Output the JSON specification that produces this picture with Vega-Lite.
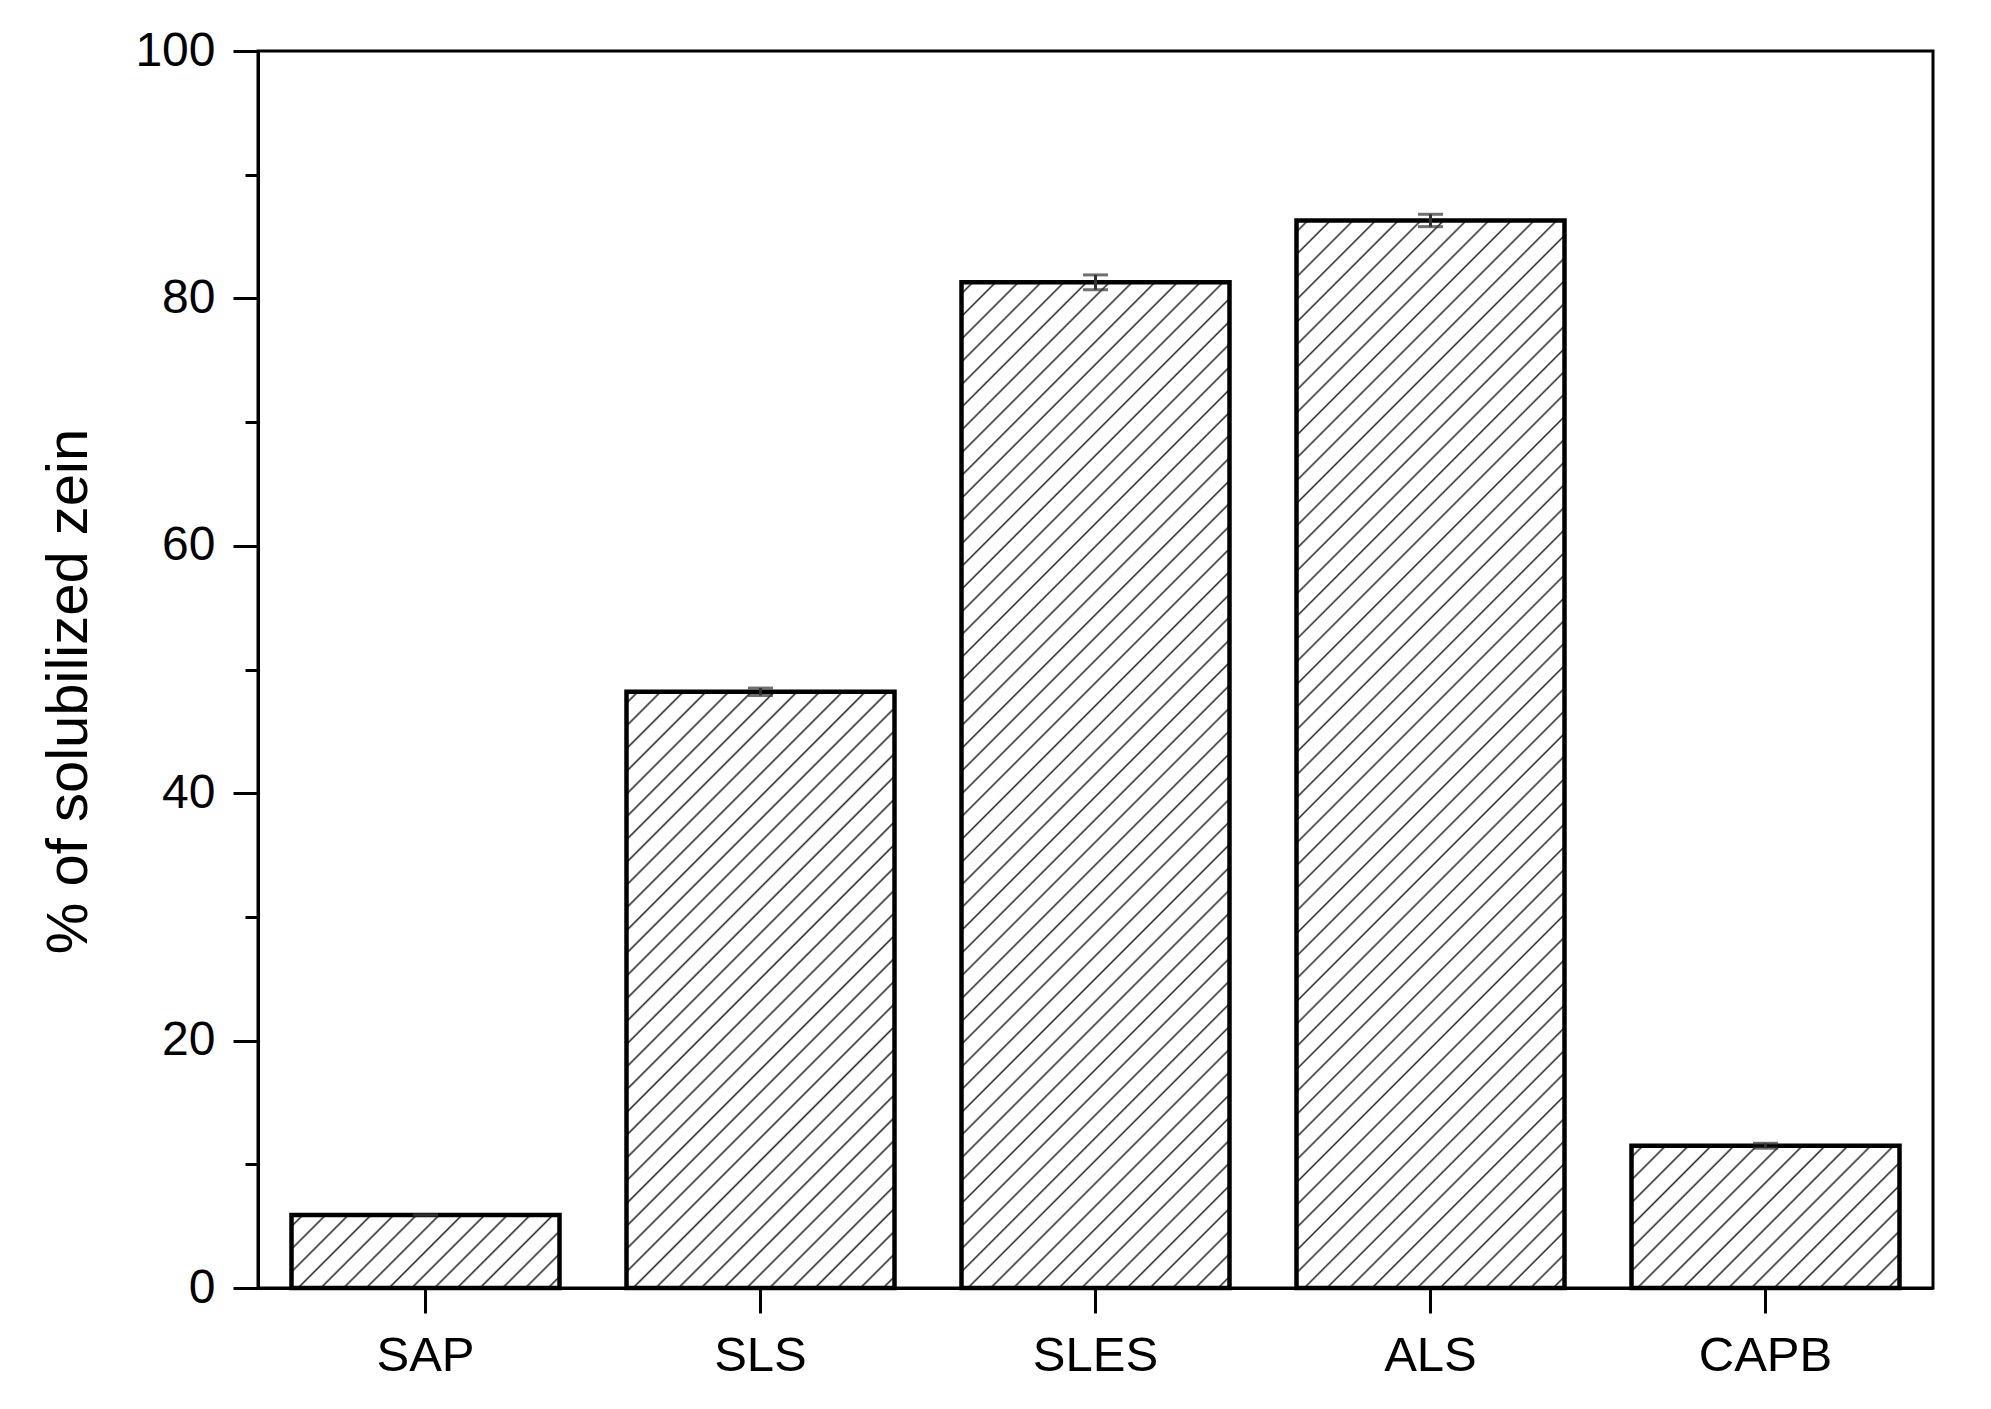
{
  "$schema": "https://vega.github.io/schema/vega-lite/v6.json",
  "width": 1675,
  "height": 1237,
  "autosize": {"type": "none"},
  "padding": {"left": 258, "top": 51, "right": 58, "bottom": 121},
  "background": "white",
  "config": {
    "font": "Liberation Sans",
    "view": {"stroke": "black", "strokeWidth": 3},
    "axis": {"domainColor": "black", "domainWidth": 3, "tickColor": "black", "tickWidth": 3, "labelColor": "black", "titleColor": "black", "grid": false, "labelFont": "Liberation Sans", "titleFont": "Liberation Sans"}
  },
  "data": {
    "values": [
      {"s": "SAP", "v": 5.9, "lo": 5.9, "hi": 5.9},
      {"s": "SLS", "v": 48.2, "lo": 47.9, "hi": 48.5},
      {"s": "SLES", "v": 81.3, "lo": 80.7, "hi": 81.9},
      {"s": "ALS", "v": 86.3, "lo": 85.8, "hi": 86.8},
      {"s": "CAPB", "v": 11.5, "lo": 11.3, "hi": 11.7}
    ]
  },
  "encoding": {
    "x": {
      "field": "s",
      "type": "nominal",
      "scale": {"domain": ["SAP", "SLS", "SLES", "ALS", "CAPB"], "paddingInner": 0.2, "paddingOuter": 0.1},
      "axis": {"title": null, "labelAngle": 0, "labelFontSize": 49, "tickSize": 25, "labelPadding": 18}
    }
  },
  "layer": [
    {
      "mark": {"type": "bar", "stroke": "black", "strokeWidth": 4.5, "strokeJoin": "miter"},
      "encoding": {
        "y": {
          "field": "v",
          "type": "quantitative",
          "scale": {"domain": [0, 100], "nice": false},
          "axis": {
            "title": "% of solubilized zein",
            "titleFontSize": 58,
            "titleFontWeight": "normal",
            "titlePadding": 36,
            "titleY": 640,
            "values": [0, 10, 20, 30, 40, 50, 60, 70, 80, 90, 100],
            "labelExpr": "datum.value % 20 === 0 ? datum.label : ''",
            "labelFontSize": 48,
            "tickSize": {"condition": {"test": "datum.value % 20 === 0", "value": 25}, "value": 13},
            "labelPadding": 18
          }
        },
        "fill": {
          "condition": [
            {"test": "datum.s === 'SAP'", "value": {"gradient": "linear", "x1": 0, "y1": 0, "x2": 1.1845, "y2": 0.3227, "stops": [
              {"offset":0.0268,"color":"#fff"},{"offset":0.0333,"color":"#2a2a2a"},{"offset":0.0398,"color":"#fff"},
              {"offset":0.0935,"color":"#fff"},{"offset":0.1,"color":"#2a2a2a"},{"offset":0.1065,"color":"#fff"},
              {"offset":0.1602,"color":"#fff"},{"offset":0.1667,"color":"#2a2a2a"},{"offset":0.1732,"color":"#fff"},
              {"offset":0.2268,"color":"#fff"},{"offset":0.2333,"color":"#2a2a2a"},{"offset":0.2398,"color":"#fff"},
              {"offset":0.2935,"color":"#fff"},{"offset":0.3,"color":"#2a2a2a"},{"offset":0.3065,"color":"#fff"},
              {"offset":0.3602,"color":"#fff"},{"offset":0.3667,"color":"#2a2a2a"},{"offset":0.3732,"color":"#fff"},
              {"offset":0.4268,"color":"#fff"},{"offset":0.4333,"color":"#2a2a2a"},{"offset":0.4398,"color":"#fff"},
              {"offset":0.4935,"color":"#fff"},{"offset":0.5,"color":"#2a2a2a"},{"offset":0.5065,"color":"#fff"},
              {"offset":0.5602,"color":"#fff"},{"offset":0.5667,"color":"#2a2a2a"},{"offset":0.5732,"color":"#fff"},
              {"offset":0.6268,"color":"#fff"},{"offset":0.6333,"color":"#2a2a2a"},{"offset":0.6398,"color":"#fff"},
              {"offset":0.6935,"color":"#fff"},{"offset":0.7,"color":"#2a2a2a"},{"offset":0.7065,"color":"#fff"},
              {"offset":0.7602,"color":"#fff"},{"offset":0.7667,"color":"#2a2a2a"},{"offset":0.7732,"color":"#fff"},
              {"offset":0.8268,"color":"#fff"},{"offset":0.8333,"color":"#2a2a2a"},{"offset":0.8398,"color":"#fff"},
              {"offset":0.8935,"color":"#fff"},{"offset":0.9,"color":"#2a2a2a"},{"offset":0.9065,"color":"#fff"},
              {"offset":0.9602,"color":"#fff"},{"offset":0.9667,"color":"#2a2a2a"},{"offset":0.9732,"color":"#fff"}
            ]}},
            {"test": "datum.s === 'CAPB'", "value": {"gradient": "linear", "x1": 0, "y1": 0, "x2": 1.1943, "y2": 0.6341, "stops": [
              {"offset":0.0224,"color":"#fff"},{"offset":0.0278,"color":"#2a2a2a"},{"offset":0.0332,"color":"#fff"},
              {"offset":0.0779,"color":"#fff"},{"offset":0.0833,"color":"#2a2a2a"},{"offset":0.0887,"color":"#fff"},
              {"offset":0.1335,"color":"#fff"},{"offset":0.1389,"color":"#2a2a2a"},{"offset":0.1443,"color":"#fff"},
              {"offset":0.1890,"color":"#fff"},{"offset":0.1944,"color":"#2a2a2a"},{"offset":0.1998,"color":"#fff"},
              {"offset":0.2446,"color":"#fff"},{"offset":0.25,"color":"#2a2a2a"},{"offset":0.2554,"color":"#fff"},
              {"offset":0.3002,"color":"#fff"},{"offset":0.3056,"color":"#2a2a2a"},{"offset":0.3110,"color":"#fff"},
              {"offset":0.3557,"color":"#fff"},{"offset":0.3611,"color":"#2a2a2a"},{"offset":0.3665,"color":"#fff"},
              {"offset":0.4113,"color":"#fff"},{"offset":0.4167,"color":"#2a2a2a"},{"offset":0.4221,"color":"#fff"},
              {"offset":0.4668,"color":"#fff"},{"offset":0.4722,"color":"#2a2a2a"},{"offset":0.4776,"color":"#fff"},
              {"offset":0.5224,"color":"#fff"},{"offset":0.5278,"color":"#2a2a2a"},{"offset":0.5332,"color":"#fff"},
              {"offset":0.5779,"color":"#fff"},{"offset":0.5833,"color":"#2a2a2a"},{"offset":0.5887,"color":"#fff"},
              {"offset":0.6335,"color":"#fff"},{"offset":0.6389,"color":"#2a2a2a"},{"offset":0.6443,"color":"#fff"},
              {"offset":0.6890,"color":"#fff"},{"offset":0.6944,"color":"#2a2a2a"},{"offset":0.6998,"color":"#fff"},
              {"offset":0.7446,"color":"#fff"},{"offset":0.75,"color":"#2a2a2a"},{"offset":0.7554,"color":"#fff"},
              {"offset":0.8002,"color":"#fff"},{"offset":0.8056,"color":"#2a2a2a"},{"offset":0.8110,"color":"#fff"},
              {"offset":0.8557,"color":"#fff"},{"offset":0.8611,"color":"#2a2a2a"},{"offset":0.8665,"color":"#fff"},
              {"offset":0.9113,"color":"#fff"},{"offset":0.9167,"color":"#2a2a2a"},{"offset":0.9221,"color":"#fff"},
              {"offset":0.9668,"color":"#fff"},{"offset":0.9722,"color":"#2a2a2a"},{"offset":0.9776,"color":"#fff"}
            ]}},
            {"test": "datum.s === 'SLS'", "value": {"gradient": "linear", "x1": 0, "y1": 0, "x2": 0.5421, "y2": 1.2059, "stops": [
              {"offset":0.0106,"color":"#fff"},{"offset":0.0132,"color":"#2a2a2a"},{"offset":0.0158,"color":"#fff"},
              {"offset":0.0369,"color":"#fff"},{"offset":0.0395,"color":"#2a2a2a"},{"offset":0.0421,"color":"#fff"},
              {"offset":0.0632,"color":"#fff"},{"offset":0.0658,"color":"#2a2a2a"},{"offset":0.0684,"color":"#fff"},
              {"offset":0.0895,"color":"#fff"},{"offset":0.0921,"color":"#2a2a2a"},{"offset":0.0947,"color":"#fff"},
              {"offset":0.1158,"color":"#fff"},{"offset":0.1184,"color":"#2a2a2a"},{"offset":0.1210,"color":"#fff"},
              {"offset":0.1421,"color":"#fff"},{"offset":0.1447,"color":"#2a2a2a"},{"offset":0.1473,"color":"#fff"},
              {"offset":0.1685,"color":"#fff"},{"offset":0.1711,"color":"#2a2a2a"},{"offset":0.1737,"color":"#fff"},
              {"offset":0.1948,"color":"#fff"},{"offset":0.1974,"color":"#2a2a2a"},{"offset":0.2000,"color":"#fff"},
              {"offset":0.2211,"color":"#fff"},{"offset":0.2237,"color":"#2a2a2a"},{"offset":0.2263,"color":"#fff"},
              {"offset":0.2474,"color":"#fff"},{"offset":0.2500,"color":"#2a2a2a"},{"offset":0.2526,"color":"#fff"},
              {"offset":0.2737,"color":"#fff"},{"offset":0.2763,"color":"#2a2a2a"},{"offset":0.2789,"color":"#fff"},
              {"offset":0.3000,"color":"#fff"},{"offset":0.3026,"color":"#2a2a2a"},{"offset":0.3052,"color":"#fff"},
              {"offset":0.3263,"color":"#fff"},{"offset":0.3289,"color":"#2a2a2a"},{"offset":0.3315,"color":"#fff"},
              {"offset":0.3527,"color":"#fff"},{"offset":0.3553,"color":"#2a2a2a"},{"offset":0.3579,"color":"#fff"},
              {"offset":0.3790,"color":"#fff"},{"offset":0.3816,"color":"#2a2a2a"},{"offset":0.3842,"color":"#fff"},
              {"offset":0.4053,"color":"#fff"},{"offset":0.4079,"color":"#2a2a2a"},{"offset":0.4105,"color":"#fff"},
              {"offset":0.4316,"color":"#fff"},{"offset":0.4342,"color":"#2a2a2a"},{"offset":0.4368,"color":"#fff"},
              {"offset":0.4579,"color":"#fff"},{"offset":0.4605,"color":"#2a2a2a"},{"offset":0.4631,"color":"#fff"},
              {"offset":0.4842,"color":"#fff"},{"offset":0.4868,"color":"#2a2a2a"},{"offset":0.4894,"color":"#fff"},
              {"offset":0.5106,"color":"#fff"},{"offset":0.5132,"color":"#2a2a2a"},{"offset":0.5158,"color":"#fff"},
              {"offset":0.5369,"color":"#fff"},{"offset":0.5395,"color":"#2a2a2a"},{"offset":0.5421,"color":"#fff"},
              {"offset":0.5632,"color":"#fff"},{"offset":0.5658,"color":"#2a2a2a"},{"offset":0.5684,"color":"#fff"},
              {"offset":0.5895,"color":"#fff"},{"offset":0.5921,"color":"#2a2a2a"},{"offset":0.5947,"color":"#fff"},
              {"offset":0.6158,"color":"#fff"},{"offset":0.6184,"color":"#2a2a2a"},{"offset":0.6210,"color":"#fff"},
              {"offset":0.6421,"color":"#fff"},{"offset":0.6447,"color":"#2a2a2a"},{"offset":0.6473,"color":"#fff"},
              {"offset":0.6685,"color":"#fff"},{"offset":0.6711,"color":"#2a2a2a"},{"offset":0.6737,"color":"#fff"},
              {"offset":0.6948,"color":"#fff"},{"offset":0.6974,"color":"#2a2a2a"},{"offset":0.7000,"color":"#fff"},
              {"offset":0.7211,"color":"#fff"},{"offset":0.7237,"color":"#2a2a2a"},{"offset":0.7263,"color":"#fff"},
              {"offset":0.7474,"color":"#fff"},{"offset":0.7500,"color":"#2a2a2a"},{"offset":0.7526,"color":"#fff"},
              {"offset":0.7737,"color":"#fff"},{"offset":0.7763,"color":"#2a2a2a"},{"offset":0.7789,"color":"#fff"},
              {"offset":0.8000,"color":"#fff"},{"offset":0.8026,"color":"#2a2a2a"},{"offset":0.8052,"color":"#fff"},
              {"offset":0.8263,"color":"#fff"},{"offset":0.8289,"color":"#2a2a2a"},{"offset":0.8315,"color":"#fff"},
              {"offset":0.8527,"color":"#fff"},{"offset":0.8553,"color":"#2a2a2a"},{"offset":0.8579,"color":"#fff"},
              {"offset":0.8790,"color":"#fff"},{"offset":0.8816,"color":"#2a2a2a"},{"offset":0.8842,"color":"#fff"},
              {"offset":0.9053,"color":"#fff"},{"offset":0.9079,"color":"#2a2a2a"},{"offset":0.9105,"color":"#fff"},
              {"offset":0.9316,"color":"#fff"},{"offset":0.9342,"color":"#2a2a2a"},{"offset":0.9368,"color":"#fff"},
              {"offset":0.9579,"color":"#fff"},{"offset":0.9605,"color":"#2a2a2a"},{"offset":0.9631,"color":"#fff"},
              {"offset":0.9842,"color":"#fff"},{"offset":0.9868,"color":"#2a2a2a"},{"offset":0.9894,"color":"#fff"}
            ]}},
            {"test": "datum.s === 'SLES'", "value": {"gradient": "linear", "x1": 0, "y1": 0, "x2": 0.3151, "y2": 1.1825, "stops": [
              {"offset":0.0072,"color":"#fff"},{"offset":0.0089,"color":"#2a2a2a"},{"offset":0.0106,"color":"#fff"},
              {"offset":0.0251,"color":"#fff"},{"offset":0.0268,"color":"#2a2a2a"},{"offset":0.0285,"color":"#fff"},
              {"offset":0.0429,"color":"#fff"},{"offset":0.0446,"color":"#2a2a2a"},{"offset":0.0463,"color":"#fff"},
              {"offset":0.0608,"color":"#fff"},{"offset":0.0625,"color":"#2a2a2a"},{"offset":0.0642,"color":"#fff"},
              {"offset":0.0787,"color":"#fff"},{"offset":0.0804,"color":"#2a2a2a"},{"offset":0.0821,"color":"#fff"},
              {"offset":0.0965,"color":"#fff"},{"offset":0.0982,"color":"#2a2a2a"},{"offset":0.0999,"color":"#fff"},
              {"offset":0.1144,"color":"#fff"},{"offset":0.1161,"color":"#2a2a2a"},{"offset":0.1178,"color":"#fff"},
              {"offset":0.1322,"color":"#fff"},{"offset":0.1339,"color":"#2a2a2a"},{"offset":0.1356,"color":"#fff"},
              {"offset":0.1501,"color":"#fff"},{"offset":0.1518,"color":"#2a2a2a"},{"offset":0.1535,"color":"#fff"},
              {"offset":0.1679,"color":"#fff"},{"offset":0.1696,"color":"#2a2a2a"},{"offset":0.1713,"color":"#fff"},
              {"offset":0.1858,"color":"#fff"},{"offset":0.1875,"color":"#2a2a2a"},{"offset":0.1892,"color":"#fff"},
              {"offset":0.2037,"color":"#fff"},{"offset":0.2054,"color":"#2a2a2a"},{"offset":0.2071,"color":"#fff"},
              {"offset":0.2215,"color":"#fff"},{"offset":0.2232,"color":"#2a2a2a"},{"offset":0.2249,"color":"#fff"},
              {"offset":0.2394,"color":"#fff"},{"offset":0.2411,"color":"#2a2a2a"},{"offset":0.2428,"color":"#fff"},
              {"offset":0.2572,"color":"#fff"},{"offset":0.2589,"color":"#2a2a2a"},{"offset":0.2606,"color":"#fff"},
              {"offset":0.2751,"color":"#fff"},{"offset":0.2768,"color":"#2a2a2a"},{"offset":0.2785,"color":"#fff"},
              {"offset":0.2929,"color":"#fff"},{"offset":0.2946,"color":"#2a2a2a"},{"offset":0.2963,"color":"#fff"},
              {"offset":0.3108,"color":"#fff"},{"offset":0.3125,"color":"#2a2a2a"},{"offset":0.3142,"color":"#fff"},
              {"offset":0.3287,"color":"#fff"},{"offset":0.3304,"color":"#2a2a2a"},{"offset":0.3321,"color":"#fff"},
              {"offset":0.3465,"color":"#fff"},{"offset":0.3482,"color":"#2a2a2a"},{"offset":0.3499,"color":"#fff"},
              {"offset":0.3644,"color":"#fff"},{"offset":0.3661,"color":"#2a2a2a"},{"offset":0.3678,"color":"#fff"},
              {"offset":0.3822,"color":"#fff"},{"offset":0.3839,"color":"#2a2a2a"},{"offset":0.3856,"color":"#fff"},
              {"offset":0.4001,"color":"#fff"},{"offset":0.4018,"color":"#2a2a2a"},{"offset":0.4035,"color":"#fff"},
              {"offset":0.4179,"color":"#fff"},{"offset":0.4196,"color":"#2a2a2a"},{"offset":0.4213,"color":"#fff"},
              {"offset":0.4358,"color":"#fff"},{"offset":0.4375,"color":"#2a2a2a"},{"offset":0.4392,"color":"#fff"},
              {"offset":0.4537,"color":"#fff"},{"offset":0.4554,"color":"#2a2a2a"},{"offset":0.4571,"color":"#fff"},
              {"offset":0.4715,"color":"#fff"},{"offset":0.4732,"color":"#2a2a2a"},{"offset":0.4749,"color":"#fff"},
              {"offset":0.4894,"color":"#fff"},{"offset":0.4911,"color":"#2a2a2a"},{"offset":0.4928,"color":"#fff"},
              {"offset":0.5072,"color":"#fff"},{"offset":0.5089,"color":"#2a2a2a"},{"offset":0.5106,"color":"#fff"},
              {"offset":0.5251,"color":"#fff"},{"offset":0.5268,"color":"#2a2a2a"},{"offset":0.5285,"color":"#fff"},
              {"offset":0.5429,"color":"#fff"},{"offset":0.5446,"color":"#2a2a2a"},{"offset":0.5463,"color":"#fff"},
              {"offset":0.5608,"color":"#fff"},{"offset":0.5625,"color":"#2a2a2a"},{"offset":0.5642,"color":"#fff"},
              {"offset":0.5787,"color":"#fff"},{"offset":0.5804,"color":"#2a2a2a"},{"offset":0.5821,"color":"#fff"},
              {"offset":0.5965,"color":"#fff"},{"offset":0.5982,"color":"#2a2a2a"},{"offset":0.5999,"color":"#fff"},
              {"offset":0.6144,"color":"#fff"},{"offset":0.6161,"color":"#2a2a2a"},{"offset":0.6178,"color":"#fff"},
              {"offset":0.6322,"color":"#fff"},{"offset":0.6339,"color":"#2a2a2a"},{"offset":0.6356,"color":"#fff"},
              {"offset":0.6501,"color":"#fff"},{"offset":0.6518,"color":"#2a2a2a"},{"offset":0.6535,"color":"#fff"},
              {"offset":0.6679,"color":"#fff"},{"offset":0.6696,"color":"#2a2a2a"},{"offset":0.6713,"color":"#fff"},
              {"offset":0.6858,"color":"#fff"},{"offset":0.6875,"color":"#2a2a2a"},{"offset":0.6892,"color":"#fff"},
              {"offset":0.7037,"color":"#fff"},{"offset":0.7054,"color":"#2a2a2a"},{"offset":0.7071,"color":"#fff"},
              {"offset":0.7215,"color":"#fff"},{"offset":0.7232,"color":"#2a2a2a"},{"offset":0.7249,"color":"#fff"},
              {"offset":0.7394,"color":"#fff"},{"offset":0.7411,"color":"#2a2a2a"},{"offset":0.7428,"color":"#fff"},
              {"offset":0.7572,"color":"#fff"},{"offset":0.7589,"color":"#2a2a2a"},{"offset":0.7606,"color":"#fff"},
              {"offset":0.7751,"color":"#fff"},{"offset":0.7768,"color":"#2a2a2a"},{"offset":0.7785,"color":"#fff"},
              {"offset":0.7929,"color":"#fff"},{"offset":0.7946,"color":"#2a2a2a"},{"offset":0.7963,"color":"#fff"},
              {"offset":0.8108,"color":"#fff"},{"offset":0.8125,"color":"#2a2a2a"},{"offset":0.8142,"color":"#fff"},
              {"offset":0.8287,"color":"#fff"},{"offset":0.8304,"color":"#2a2a2a"},{"offset":0.8321,"color":"#fff"},
              {"offset":0.8465,"color":"#fff"},{"offset":0.8482,"color":"#2a2a2a"},{"offset":0.8499,"color":"#fff"},
              {"offset":0.8644,"color":"#fff"},{"offset":0.8661,"color":"#2a2a2a"},{"offset":0.8678,"color":"#fff"},
              {"offset":0.8822,"color":"#fff"},{"offset":0.8839,"color":"#2a2a2a"},{"offset":0.8856,"color":"#fff"},
              {"offset":0.9001,"color":"#fff"},{"offset":0.9018,"color":"#2a2a2a"},{"offset":0.9035,"color":"#fff"},
              {"offset":0.9179,"color":"#fff"},{"offset":0.9196,"color":"#2a2a2a"},{"offset":0.9213,"color":"#fff"},
              {"offset":0.9358,"color":"#fff"},{"offset":0.9375,"color":"#2a2a2a"},{"offset":0.9392,"color":"#fff"},
              {"offset":0.9537,"color":"#fff"},{"offset":0.9554,"color":"#2a2a2a"},{"offset":0.9571,"color":"#fff"},
              {"offset":0.9715,"color":"#fff"},{"offset":0.9732,"color":"#2a2a2a"},{"offset":0.9749,"color":"#fff"},
              {"offset":0.9894,"color":"#fff"},{"offset":0.9911,"color":"#2a2a2a"},{"offset":0.9928,"color":"#fff"}
            ]}},
            {"test": "datum.s === 'ALS'", "value": {"gradient": "linear", "x1": 0, "y1": 0, "x2": 0.2955, "y2": 1.1769, "stops": [
              {"offset":0.0069,"color":"#fff"},{"offset":0.0085,"color":"#2a2a2a"},{"offset":0.0101,"color":"#fff"},
              {"offset":0.0238,"color":"#fff"},{"offset":0.0254,"color":"#2a2a2a"},{"offset":0.0270,"color":"#fff"},
              {"offset":0.0408,"color":"#fff"},{"offset":0.0424,"color":"#2a2a2a"},{"offset":0.0440,"color":"#fff"},
              {"offset":0.0577,"color":"#fff"},{"offset":0.0593,"color":"#2a2a2a"},{"offset":0.0609,"color":"#fff"},
              {"offset":0.0747,"color":"#fff"},{"offset":0.0763,"color":"#2a2a2a"},{"offset":0.0779,"color":"#fff"},
              {"offset":0.0916,"color":"#fff"},{"offset":0.0932,"color":"#2a2a2a"},{"offset":0.0948,"color":"#fff"},
              {"offset":0.1086,"color":"#fff"},{"offset":0.1102,"color":"#2a2a2a"},{"offset":0.1118,"color":"#fff"},
              {"offset":0.1255,"color":"#fff"},{"offset":0.1271,"color":"#2a2a2a"},{"offset":0.1287,"color":"#fff"},
              {"offset":0.1425,"color":"#fff"},{"offset":0.1441,"color":"#2a2a2a"},{"offset":0.1457,"color":"#fff"},
              {"offset":0.1594,"color":"#fff"},{"offset":0.1610,"color":"#2a2a2a"},{"offset":0.1626,"color":"#fff"},
              {"offset":0.1764,"color":"#fff"},{"offset":0.1780,"color":"#2a2a2a"},{"offset":0.1796,"color":"#fff"},
              {"offset":0.1933,"color":"#fff"},{"offset":0.1949,"color":"#2a2a2a"},{"offset":0.1965,"color":"#fff"},
              {"offset":0.2103,"color":"#fff"},{"offset":0.2119,"color":"#2a2a2a"},{"offset":0.2135,"color":"#fff"},
              {"offset":0.2272,"color":"#fff"},{"offset":0.2288,"color":"#2a2a2a"},{"offset":0.2304,"color":"#fff"},
              {"offset":0.2442,"color":"#fff"},{"offset":0.2458,"color":"#2a2a2a"},{"offset":0.2474,"color":"#fff"},
              {"offset":0.2611,"color":"#fff"},{"offset":0.2627,"color":"#2a2a2a"},{"offset":0.2643,"color":"#fff"},
              {"offset":0.2781,"color":"#fff"},{"offset":0.2797,"color":"#2a2a2a"},{"offset":0.2813,"color":"#fff"},
              {"offset":0.2950,"color":"#fff"},{"offset":0.2966,"color":"#2a2a2a"},{"offset":0.2982,"color":"#fff"},
              {"offset":0.3120,"color":"#fff"},{"offset":0.3136,"color":"#2a2a2a"},{"offset":0.3152,"color":"#fff"},
              {"offset":0.3289,"color":"#fff"},{"offset":0.3305,"color":"#2a2a2a"},{"offset":0.3321,"color":"#fff"},
              {"offset":0.3459,"color":"#fff"},{"offset":0.3475,"color":"#2a2a2a"},{"offset":0.3491,"color":"#fff"},
              {"offset":0.3628,"color":"#fff"},{"offset":0.3644,"color":"#2a2a2a"},{"offset":0.3660,"color":"#fff"},
              {"offset":0.3798,"color":"#fff"},{"offset":0.3814,"color":"#2a2a2a"},{"offset":0.3830,"color":"#fff"},
              {"offset":0.3967,"color":"#fff"},{"offset":0.3983,"color":"#2a2a2a"},{"offset":0.3999,"color":"#fff"},
              {"offset":0.4137,"color":"#fff"},{"offset":0.4153,"color":"#2a2a2a"},{"offset":0.4169,"color":"#fff"},
              {"offset":0.4306,"color":"#fff"},{"offset":0.4322,"color":"#2a2a2a"},{"offset":0.4338,"color":"#fff"},
              {"offset":0.4476,"color":"#fff"},{"offset":0.4492,"color":"#2a2a2a"},{"offset":0.4508,"color":"#fff"},
              {"offset":0.4645,"color":"#fff"},{"offset":0.4661,"color":"#2a2a2a"},{"offset":0.4677,"color":"#fff"},
              {"offset":0.4815,"color":"#fff"},{"offset":0.4831,"color":"#2a2a2a"},{"offset":0.4847,"color":"#fff"},
              {"offset":0.4984,"color":"#fff"},{"offset":0.5000,"color":"#2a2a2a"},{"offset":0.5016,"color":"#fff"},
              {"offset":0.5154,"color":"#fff"},{"offset":0.5170,"color":"#2a2a2a"},{"offset":0.5186,"color":"#fff"},
              {"offset":0.5323,"color":"#fff"},{"offset":0.5339,"color":"#2a2a2a"},{"offset":0.5355,"color":"#fff"},
              {"offset":0.5493,"color":"#fff"},{"offset":0.5509,"color":"#2a2a2a"},{"offset":0.5525,"color":"#fff"},
              {"offset":0.5662,"color":"#fff"},{"offset":0.5678,"color":"#2a2a2a"},{"offset":0.5694,"color":"#fff"},
              {"offset":0.5832,"color":"#fff"},{"offset":0.5848,"color":"#2a2a2a"},{"offset":0.5864,"color":"#fff"},
              {"offset":0.6001,"color":"#fff"},{"offset":0.6017,"color":"#2a2a2a"},{"offset":0.6033,"color":"#fff"},
              {"offset":0.6170,"color":"#fff"},{"offset":0.6186,"color":"#2a2a2a"},{"offset":0.6202,"color":"#fff"},
              {"offset":0.6340,"color":"#fff"},{"offset":0.6356,"color":"#2a2a2a"},{"offset":0.6372,"color":"#fff"},
              {"offset":0.6509,"color":"#fff"},{"offset":0.6525,"color":"#2a2a2a"},{"offset":0.6541,"color":"#fff"},
              {"offset":0.6679,"color":"#fff"},{"offset":0.6695,"color":"#2a2a2a"},{"offset":0.6711,"color":"#fff"},
              {"offset":0.6848,"color":"#fff"},{"offset":0.6864,"color":"#2a2a2a"},{"offset":0.6880,"color":"#fff"},
              {"offset":0.7018,"color":"#fff"},{"offset":0.7034,"color":"#2a2a2a"},{"offset":0.7050,"color":"#fff"},
              {"offset":0.7187,"color":"#fff"},{"offset":0.7203,"color":"#2a2a2a"},{"offset":0.7219,"color":"#fff"},
              {"offset":0.7357,"color":"#fff"},{"offset":0.7373,"color":"#2a2a2a"},{"offset":0.7389,"color":"#fff"},
              {"offset":0.7526,"color":"#fff"},{"offset":0.7542,"color":"#2a2a2a"},{"offset":0.7558,"color":"#fff"},
              {"offset":0.7696,"color":"#fff"},{"offset":0.7712,"color":"#2a2a2a"},{"offset":0.7728,"color":"#fff"},
              {"offset":0.7865,"color":"#fff"},{"offset":0.7881,"color":"#2a2a2a"},{"offset":0.7897,"color":"#fff"},
              {"offset":0.8035,"color":"#fff"},{"offset":0.8051,"color":"#2a2a2a"},{"offset":0.8067,"color":"#fff"},
              {"offset":0.8204,"color":"#fff"},{"offset":0.8220,"color":"#2a2a2a"},{"offset":0.8236,"color":"#fff"},
              {"offset":0.8374,"color":"#fff"},{"offset":0.8390,"color":"#2a2a2a"},{"offset":0.8406,"color":"#fff"},
              {"offset":0.8543,"color":"#fff"},{"offset":0.8559,"color":"#2a2a2a"},{"offset":0.8575,"color":"#fff"},
              {"offset":0.8713,"color":"#fff"},{"offset":0.8729,"color":"#2a2a2a"},{"offset":0.8745,"color":"#fff"},
              {"offset":0.8882,"color":"#fff"},{"offset":0.8898,"color":"#2a2a2a"},{"offset":0.8914,"color":"#fff"},
              {"offset":0.9052,"color":"#fff"},{"offset":0.9068,"color":"#2a2a2a"},{"offset":0.9084,"color":"#fff"},
              {"offset":0.9221,"color":"#fff"},{"offset":0.9237,"color":"#2a2a2a"},{"offset":0.9253,"color":"#fff"},
              {"offset":0.9391,"color":"#fff"},{"offset":0.9407,"color":"#2a2a2a"},{"offset":0.9423,"color":"#fff"},
              {"offset":0.9560,"color":"#fff"},{"offset":0.9576,"color":"#2a2a2a"},{"offset":0.9592,"color":"#fff"},
              {"offset":0.9730,"color":"#fff"},{"offset":0.9746,"color":"#2a2a2a"},{"offset":0.9762,"color":"#fff"},
              {"offset":0.9899,"color":"#fff"},{"offset":0.9915,"color":"#2a2a2a"},{"offset":0.9931,"color":"#fff"}
            ]}}
          ],
          "value": "white"
        }
      }
    },
    {
      "mark": {"type": "rule", "color": "#333", "strokeWidth": 3},
      "encoding": {"y": {"field": "lo", "type": "quantitative"}, "y2": {"field": "hi"}}
    },
    {
      "mark": {"type": "tick", "color": "#333", "thickness": 3, "size": 25, "orient": "horizontal"},
      "encoding": {"y": {"field": "lo", "type": "quantitative"}}
    },
    {
      "mark": {"type": "tick", "color": "#333", "thickness": 3, "size": 25, "orient": "horizontal"},
      "encoding": {"y": {"field": "hi", "type": "quantitative"}}
    }
  ]
}
